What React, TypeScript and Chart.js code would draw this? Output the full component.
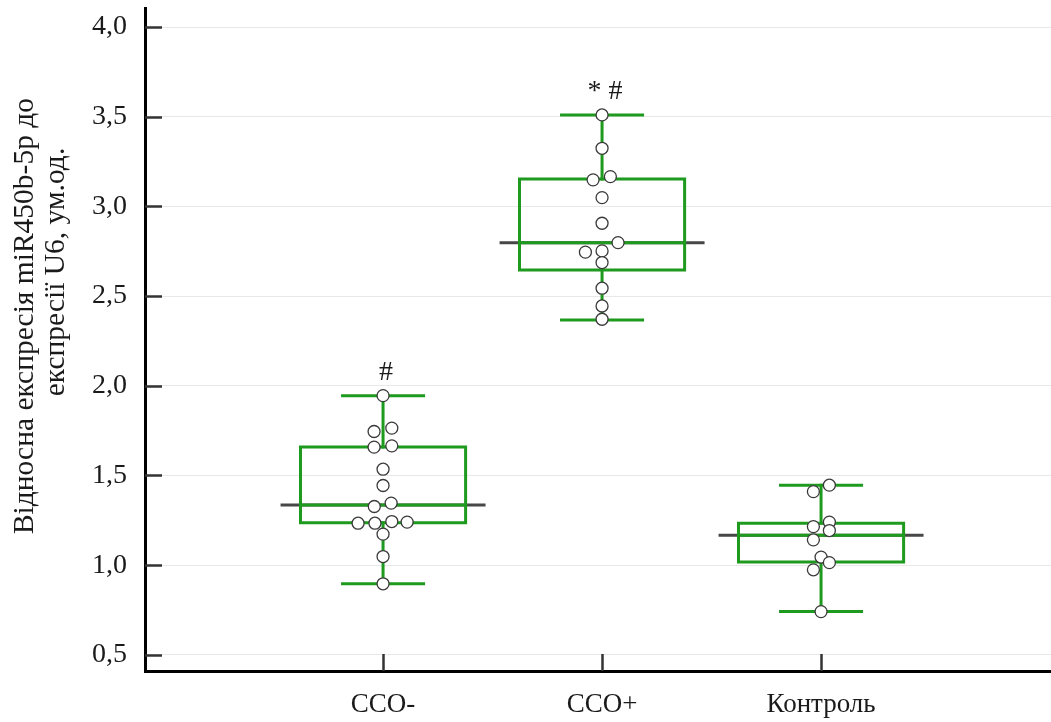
import React, { useEffect, useRef } from "react";
import { Chart, registerables } from "chart.js";

Chart.register(...registerables);

const CATEGORIES = ["CCO-", "CCO+", "Контроль"];

const CCO_MINUS = [1.945, 1.745, 1.764, 1.658, 1.665, 1.535, 1.444, 1.327, 1.346, 1.234, 1.234, 1.243, 1.24, 1.173, 1.048, 0.896];
const CCO_MINUS_JITTER = [0, -0.041, 0.04, -0.041, 0.04, 0, 0, -0.04, 0.037, -0.114, -0.037, 0.04, 0.11, 0, 0, 0];

const CCO_PLUS = [3.51, 3.324, 3.148, 3.166, 3.049, 2.906, 2.798, 2.745, 2.752, 2.687, 2.544, 2.445, 2.371];
const CCO_PLUS_JITTER = [0, 0, -0.041, 0.038, 0, 0, 0.073, -0.076, 0, 0, 0, 0, 0];

const CONTROL = [1.446, 1.41, 1.215, 1.24, 1.193, 1.141, 1.045, 1.014, 0.974, 0.741];
const CONTROL_JITTER = [0.038, -0.035, -0.035, 0.038, 0.038, -0.035, 0, 0.038, -0.035, 0];

const Q1 = [1.236, 2.646, 1.017];
const MEDIAN = [1.336, 2.797, 1.167];
const Q3 = [1.659, 3.153, 1.234];
const WHISKER_LOW = [0.896, 2.367, 0.741];
const WHISKER_HIGH = [1.944, 3.51, 1.446];

const ANNOTATIONS = ["#", "* #", ""];

const Y_TICKS = [0.5, 1.0, 1.5, 2.0, 2.5, 3.0, 3.5, 4.0];
const Y_TITLE = ["Відносна експресія miR450b-5p до", "експресії U6, ум.од."];

const GREEN = "#1e9a1e";
const GRAY = "#474747";
const FONT = "'Liberation Serif', 'Times New Roman', serif";

const BOX_HALF = 0.377;
const MED_HALF = 0.468;
const CAP_HALF = 0.185;

type P = { x: number; y: number | null };

function gap(i: number): P {
  return { x: i + 0.5, y: null };
}

function buildLines() {
  const gray: P[] = [];
  const greenMed: P[] = [];
  const box: P[] = [];
  const whisk: P[] = [];
  const caps: P[] = [];
  CATEGORIES.forEach((_, i) => {
    gray.push({ x: i - MED_HALF, y: MEDIAN[i] }, { x: i + MED_HALF, y: MEDIAN[i] }, gap(i));
    greenMed.push({ x: i - BOX_HALF, y: MEDIAN[i] }, { x: i + BOX_HALF, y: MEDIAN[i] }, gap(i));
    box.push(
      { x: i - BOX_HALF, y: Q1[i] },
      { x: i + BOX_HALF, y: Q1[i] },
      { x: i + BOX_HALF, y: Q3[i] },
      { x: i - BOX_HALF, y: Q3[i] },
      { x: i - BOX_HALF, y: Q1[i] },
      gap(i)
    );
    whisk.push({ x: i, y: Q3[i] }, { x: i, y: WHISKER_HIGH[i] }, gap(i), { x: i, y: Q1[i] }, { x: i, y: WHISKER_LOW[i] }, gap(i));
    caps.push(
      { x: i - CAP_HALF, y: WHISKER_HIGH[i] },
      { x: i + CAP_HALF, y: WHISKER_HIGH[i] },
      gap(i),
      { x: i - CAP_HALF, y: WHISKER_LOW[i] },
      { x: i + CAP_HALF, y: WHISKER_LOW[i] },
      gap(i)
    );
  });
  return { gray, greenMed, box, whisk, caps };
}

function buildPoints() {
  const pts: P[] = [];
  const groups = [
    [CCO_MINUS, CCO_MINUS_JITTER],
    [CCO_PLUS, CCO_PLUS_JITTER],
    [CONTROL, CONTROL_JITTER],
  ];
  groups.forEach(([vals, jit], i) => {
    vals.forEach((v, k) => pts.push({ x: i + jit[k], y: v }));
  });
  return pts;
}

const decorPlugin = {
  id: "decor",
  beforeDatasetsDraw(chart: any) {
    const { ctx, chartArea, scales } = chart;
    const ys = scales.y;
    const xs = scales.x;
    ctx.save();
    ctx.strokeStyle = "#333";
    ctx.lineWidth = 2.5;
    Y_TICKS.forEach((t) => {
      const py = Math.round(ys.getPixelForValue(t)) + 0.5;
      ctx.beginPath();
      ctx.moveTo(chartArea.left, py);
      ctx.lineTo(chartArea.left + 17, py);
      ctx.stroke();
    });
    CATEGORIES.forEach((_, i) => {
      const px = Math.round(xs.getPixelForValue(i)) + 0.5;
      ctx.beginPath();
      ctx.moveTo(px, chartArea.bottom);
      ctx.lineTo(px, chartArea.bottom - 17);
      ctx.stroke();
    });
    ctx.restore();
  },
  afterDatasetsDraw(chart: any) {
    const { ctx, scales } = chart;
    const ys = scales.y;
    const xs = scales.x;
    ctx.save();
    ctx.fillStyle = "#1a1a1a";
    ctx.font = `28px ${FONT}`;
    ctx.textAlign = "center";
    ctx.textBaseline = "alphabetic";
    ANNOTATIONS.forEach((a, i) => {
      if (!a) return;
      const px = xs.getPixelForValue(i) + 3;
      const py = ys.getPixelForValue(WHISKER_HIGH[i]) - 16;
      ctx.fillText(a, px, py);
    });
    ctx.font = `29.5px ${FONT}`;
    ctx.textBaseline = "middle";
    const centers = [
      [25, 316],
      [56, 272],
    ];
    Y_TITLE.forEach((line, k) => {
      ctx.save();
      ctx.translate(centers[k][0], centers[k][1]);
      ctx.rotate(-Math.PI / 2);
      ctx.fillText(line, 0, 0);
      ctx.restore();
    });
    ctx.restore();
  },
};

export default function App() {
  const ref = useRef<HTMLCanvasElement | null>(null);
  useEffect(() => {
    if (!ref.current) return;
    const lines = buildLines();
    const lineDs = (data: P[], color: string, order: number) => ({
      type: "scatter" as const,
      data,
      showLine: true,
      spanGaps: false,
      borderColor: color,
      borderWidth: 3,
      borderCapStyle: "square",
      borderJoinStyle: "miter",
      pointRadius: 0,
      pointHoverRadius: 0,
      order,
    });
    const chart = new Chart(ref.current, {
      type: "scatter",
      data: {
        datasets: [
          {
            data: buildPoints(),
            pointRadius: 6,
            pointHoverRadius: 6,
            pointBackgroundColor: "#ffffff",
            pointBorderColor: "#3a3a3a",
            pointBorderWidth: 1.3,
            showLine: false,
            order: 0,
          } as any,
          lineDs(lines.box, GREEN, 1) as any,
          lineDs(lines.greenMed, GREEN, 1) as any,
          lineDs(lines.whisk, GREEN, 2) as any,
          lineDs(lines.caps, GREEN, 2) as any,
          { ...(lineDs(lines.gray, GRAY, 3) as any), borderCapStyle: "butt" },
        ],
      },
      options: {
        animation: false,
        responsive: false,
        maintainAspectRatio: false,
        layout: { autoPadding: false, padding: { top: 8, right: 0, left: 0, bottom: 0 } },
        plugins: { legend: { display: false }, tooltip: { enabled: false }, title: { display: false } },
        events: [],
        scales: {
          x: {
            type: "linear",
            min: -1.087,
            max: 3.05,
            grid: { display: false, drawTicks: false },
            border: { display: true, color: "#000", width: 3 },
            afterBuildTicks: (s: any) => {
              s.ticks = CATEGORIES.map((_, i) => ({ value: i }));
            },
            afterFit: (s: any) => {
              s.height = 51;
              s.paddingLeft = 0;
              s.paddingRight = 0;
            },
            ticks: {
              autoSkip: false,
              maxRotation: 0,
              padding: 18,
              color: "#1a1a1a",
              font: { family: FONT, size: 27 },
              callback: (v: any) => CATEGORIES[Math.round(v)] ?? "",
            },
          },
          y: {
            type: "linear",
            min: 0.41,
            max: 4.106,
            grid: { display: true, color: "#e8e8e8", lineWidth: 1, drawTicks: false },
            border: { display: true, color: "#000", width: 3 },
            afterBuildTicks: (s: any) => {
              s.ticks = Y_TICKS.map((v) => ({ value: v }));
            },
            afterFit: (s: any) => {
              s.width = 145;
              s.paddingTop = 0;
              s.paddingBottom = 0;
            },
            ticks: {
              padding: 18,
              color: "#1a1a1a",
              font: { family: FONT, size: 28 },
              callback: (v: any) => Number(v).toFixed(1).replace(".", ","),
            },
          },
        },
      } as any,
      plugins: [decorPlugin],
    });
    return () => chart.destroy();
  }, []);
  return (
    <div style={{ position: "absolute", left: 0, top: 0, width: 1051, height: 722, background: "#fff" }}>
      <canvas ref={ref} width={1051} height={722} style={{ display: "block", width: 1051, height: 722 }} />
    </div>
  );
}
